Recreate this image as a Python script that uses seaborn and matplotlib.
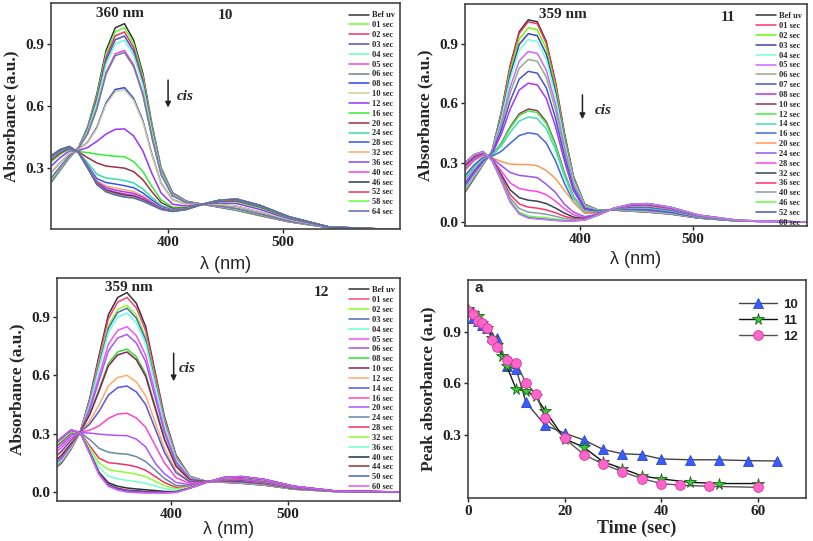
import pandas as pd
import matplotlib
matplotlib.use('Agg')
import matplotlib.pyplot as plt
import seaborn as sns

sns.set_style('ticks')
plt.rcParams['font.family'] = ['Liberation Serif', 'DejaVu Serif']
plt.rcParams['axes.linewidth'] = 1.2

# wavelength grid (nm) shared by the three spectra panels
wavelength = [298, 306, 314, 322, 330, 338, 346, 354, 362, 370, 378, 386,
              394, 404, 416, 430, 445, 460, 480, 505, 540, 600]

# ---- compound 10 ----
labels_10 = ['Bef uv', '01 sec', '02 sec', '03 sec', '04 sec', '05 sec', '06 sec',
             '08 sec', '10 sec', '12 sec', '16 sec', '20 sec', '24 sec', '28 sec',
             '32 sec', '36 sec', '40 sec', '46 sec', '52 sec', '58 sec', '64 sec']
colors_10 = ['#333333', '#66ff33', '#e8336b', '#5050c8', '#66ffcc', '#ee44ee', '#708090',
             '#3344dd', '#cccc99', '#9933ff', '#33ee33', '#993344', '#33ddaa', '#3355ee',
             '#ffaa66', '#9944ee', '#ee44dd', '#333366', '#ee3366', '#66ff33', '#5566bb']
spectra_10 = [
    [0.23, 0.29, 0.35, 0.40, 0.50, 0.66, 0.87, 0.98, 1.00, 0.92, 0.76, 0.51, 0.30, 0.18, 0.14, 0.125, 0.11, 0.095, 0.07, 0.04, 0.012, 0.002],
    [0.233, 0.292, 0.351, 0.399, 0.495, 0.649, 0.854, 0.961, 0.98, 0.902, 0.745, 0.501, 0.295, 0.178, 0.139, 0.125, 0.111, 0.096, 0.071, 0.041, 0.012, 0.002],
    [0.236, 0.295, 0.353, 0.399, 0.49, 0.639, 0.837, 0.941, 0.96, 0.883, 0.73, 0.491, 0.29, 0.176, 0.138, 0.125, 0.112, 0.098, 0.072, 0.041, 0.012, 0.002],
    [0.239, 0.297, 0.354, 0.398, 0.486, 0.629, 0.821, 0.922, 0.94, 0.866, 0.716, 0.482, 0.286, 0.174, 0.137, 0.125, 0.112, 0.099, 0.074, 0.042, 0.012, 0.002],
    [0.242, 0.299, 0.355, 0.398, 0.481, 0.618, 0.805, 0.903, 0.92, 0.847, 0.701, 0.473, 0.281, 0.171, 0.136, 0.125, 0.113, 0.1, 0.075, 0.042, 0.012, 0.002],
    [0.25, 0.305, 0.359, 0.396, 0.469, 0.592, 0.764, 0.854, 0.87, 0.801, 0.664, 0.45, 0.269, 0.166, 0.134, 0.125, 0.115, 0.104, 0.078, 0.044, 0.012, 0.002],
    [0.252, 0.307, 0.359, 0.396, 0.467, 0.587, 0.756, 0.845, 0.86, 0.792, 0.656, 0.445, 0.267, 0.165, 0.133, 0.125, 0.116, 0.104, 0.078, 0.044, 0.012, 0.002],
    [0.278, 0.327, 0.37, 0.391, 0.426, 0.498, 0.617, 0.681, 0.69, 0.638, 0.531, 0.366, 0.226, 0.147, 0.125, 0.125, 0.123, 0.115, 0.088, 0.049, 0.013, 0.002],
    [0.28, 0.328, 0.371, 0.39, 0.424, 0.492, 0.609, 0.671, 0.68, 0.629, 0.524, 0.361, 0.224, 0.146, 0.125, 0.125, 0.123, 0.116, 0.089, 0.05, 0.013, 0.002],
    [0.309, 0.351, 0.383, 0.385, 0.40, 0.43, 0.465, 0.488, 0.49, 0.456, 0.384, 0.273, 0.179, 0.125, 0.116, 0.125, 0.131, 0.128, 0.1, 0.055, 0.014, 0.002],
    [0.33, 0.367, 0.392, 0.381, 0.375, 0.368, 0.362, 0.358, 0.355, 0.332, 0.284, 0.21, 0.146, 0.111, 0.109, 0.125, 0.137, 0.137, 0.108, 0.059, 0.014, 0.002],
    [0.338, 0.373, 0.396, 0.379, 0.35, 0.325, 0.31, 0.305, 0.30, 0.283, 0.244, 0.185, 0.133, 0.105, 0.107, 0.125, 0.139, 0.141, 0.112, 0.061, 0.015, 0.002],
    [0.348, 0.38, 0.40, 0.377, 0.325, 0.27, 0.252, 0.247, 0.24, 0.228, 0.199, 0.157, 0.119, 0.099, 0.104, 0.125, 0.142, 0.145, 0.115, 0.063, 0.015, 0.002],
    [0.352, 0.383, 0.401, 0.377, 0.313, 0.249, 0.23, 0.223, 0.215, 0.205, 0.18, 0.145, 0.113, 0.096, 0.103, 0.125, 0.143, 0.146, 0.117, 0.063, 0.015, 0.002],
    [0.355, 0.386, 0.403, 0.376, 0.308, 0.238, 0.214, 0.204, 0.195, 0.187, 0.166, 0.136, 0.108, 0.094, 0.102, 0.125, 0.144, 0.148, 0.118, 0.064, 0.015, 0.002],
    [0.356, 0.387, 0.403, 0.376, 0.306, 0.233, 0.206, 0.194, 0.185, 0.178, 0.159, 0.132, 0.106, 0.093, 0.101, 0.125, 0.144, 0.148, 0.119, 0.064, 0.015, 0.002],
    [0.358, 0.388, 0.404, 0.375, 0.304, 0.228, 0.197, 0.185, 0.175, 0.169, 0.151, 0.127, 0.104, 0.092, 0.101, 0.125, 0.144, 0.149, 0.119, 0.065, 0.015, 0.002],
    [0.358, 0.389, 0.404, 0.375, 0.302, 0.225, 0.193, 0.18, 0.17, 0.164, 0.147, 0.125, 0.102, 0.091, 0.1, 0.125, 0.145, 0.149, 0.119, 0.065, 0.015, 0.002],
    [0.359, 0.389, 0.405, 0.375, 0.301, 0.223, 0.189, 0.175, 0.165, 0.16, 0.144, 0.122, 0.101, 0.091, 0.1, 0.125, 0.145, 0.15, 0.12, 0.065, 0.015, 0.002],
    [0.36, 0.39, 0.405, 0.375, 0.30, 0.221, 0.186, 0.172, 0.162, 0.157, 0.141, 0.121, 0.10, 0.09, 0.10, 0.125, 0.145, 0.15, 0.12, 0.065, 0.015, 0.002],
    [0.36, 0.39, 0.405, 0.375, 0.30, 0.22, 0.185, 0.17, 0.16, 0.155, 0.14, 0.12, 0.10, 0.09, 0.10, 0.125, 0.145, 0.15, 0.12, 0.065, 0.015, 0.002],
]

# ---- compound 11 ----
labels_11 = ['Bef uv', '01 sec', '02 sec', '03 sec', '04 sec', '05 sec', '06 sec',
             '07 sec', '08 sec', '10 sec', '12 sec', '14 sec', '16 sec', '20 sec',
             '24 sec', '28 sec', '32 sec', '36 sec', '40 sec', '46 sec', '52 sec', '60 sec']
colors_11 = ['#333333', '#ff3366', '#66ff00', '#4040c0', '#77ffdd', '#cc66ff', '#99aa88',
             '#4455cc', '#aa33ff', '#993355', '#44ee44', '#44ddbb', '#4466dd', '#ff9955',
             '#9955ee', '#ff44ee', '#334455', '#ff3366', '#8899aa', '#66ff33', '#4455bb', '#cc77ff']
spectra_11 = [
    [0.15, 0.22, 0.29, 0.36, 0.55, 0.79, 0.96, 1.02, 1.01, 0.91, 0.71, 0.45, 0.23, 0.09, 0.06, 0.06, 0.055, 0.05, 0.04, 0.02, 0.005, 0.0],
    [0.151, 0.221, 0.291, 0.36, 0.547, 0.783, 0.951, 1.01, 1.0, 0.901, 0.703, 0.446, 0.228, 0.089, 0.06, 0.06, 0.055, 0.05, 0.04, 0.02, 0.005, 0.0],
    [0.156, 0.225, 0.293, 0.358, 0.536, 0.762, 0.923, 0.98, 0.97, 0.874, 0.682, 0.432, 0.221, 0.087, 0.059, 0.06, 0.056, 0.052, 0.041, 0.021, 0.005, 0.0],
    [0.16, 0.228, 0.295, 0.357, 0.526, 0.742, 0.896, 0.95, 0.94, 0.847, 0.661, 0.419, 0.214, 0.084, 0.058, 0.061, 0.057, 0.053, 0.042, 0.021, 0.005, 0.0],
    [0.165, 0.232, 0.296, 0.355, 0.516, 0.721, 0.868, 0.92, 0.911, 0.82, 0.64, 0.406, 0.208, 0.082, 0.058, 0.061, 0.058, 0.054, 0.043, 0.022, 0.005, 0.0],
    [0.174, 0.239, 0.30, 0.352, 0.496, 0.68, 0.813, 0.86, 0.851, 0.766, 0.598, 0.379, 0.194, 0.077, 0.056, 0.062, 0.061, 0.057, 0.046, 0.022, 0.005, 0.0],
    [0.18, 0.244, 0.303, 0.35, 0.482, 0.652, 0.776, 0.82, 0.811, 0.73, 0.57, 0.361, 0.185, 0.074, 0.055, 0.062, 0.062, 0.059, 0.047, 0.023, 0.006, 0.0],
    [0.189, 0.251, 0.307, 0.347, 0.462, 0.611, 0.721, 0.76, 0.751, 0.677, 0.527, 0.334, 0.172, 0.069, 0.054, 0.063, 0.064, 0.061, 0.049, 0.024, 0.006, 0.0],
    [0.198, 0.258, 0.311, 0.344, 0.441, 0.569, 0.666, 0.70, 0.692, 0.623, 0.485, 0.308, 0.158, 0.064, 0.052, 0.063, 0.066, 0.064, 0.051, 0.025, 0.006, 0.0],
    [0.217, 0.274, 0.319, 0.338, 0.397, 0.48, 0.546, 0.57, 0.562, 0.506, 0.394, 0.25, 0.129, 0.054, 0.049, 0.065, 0.071, 0.069, 0.056, 0.027, 0.006, 0.0],
    [0.219, 0.275, 0.32, 0.337, 0.394, 0.473, 0.537, 0.56, 0.552, 0.497, 0.387, 0.245, 0.127, 0.053, 0.049, 0.065, 0.071, 0.07, 0.056, 0.027, 0.006, 0.0],
    [0.223, 0.279, 0.322, 0.336, 0.383, 0.452, 0.509, 0.53, 0.522, 0.47, 0.366, 0.232, 0.12, 0.051, 0.048, 0.065, 0.072, 0.071, 0.057, 0.027, 0.006, 0.0],
    [0.235, 0.288, 0.327, 0.332, 0.356, 0.397, 0.436, 0.45, 0.443, 0.398, 0.31, 0.196, 0.102, 0.044, 0.046, 0.066, 0.075, 0.075, 0.06, 0.029, 0.007, 0.0],
    [0.259, 0.308, 0.337, 0.324, 0.305, 0.292, 0.29, 0.29, 0.284, 0.26, 0.22, 0.16, 0.10, 0.045, 0.042, 0.067, 0.081, 0.081, 0.066, 0.031, 0.007, 0.0],
    [0.268, 0.315, 0.341, 0.321, 0.285, 0.25, 0.235, 0.23, 0.224, 0.19, 0.15, 0.09, 0.05, 0.027, 0.04, 0.068, 0.083, 0.084, 0.068, 0.032, 0.007, 0.0],
    [0.279, 0.323, 0.346, 0.317, 0.258, 0.197, 0.169, 0.16, 0.154, 0.138, 0.106, 0.067, 0.037, 0.021, 0.039, 0.069, 0.085, 0.087, 0.07, 0.033, 0.008, 0.0],
    [0.286, 0.329, 0.349, 0.315, 0.241, 0.162, 0.123, 0.11, 0.105, 0.093, 0.071, 0.045, 0.025, 0.017, 0.037, 0.069, 0.087, 0.089, 0.072, 0.034, 0.008, 0.0],
    [0.292, 0.333, 0.351, 0.313, 0.229, 0.138, 0.091, 0.075, 0.07, 0.061, 0.047, 0.029, 0.017, 0.014, 0.036, 0.069, 0.088, 0.091, 0.073, 0.034, 0.008, 0.0],
    [0.296, 0.336, 0.353, 0.312, 0.22, 0.121, 0.068, 0.05, 0.045, 0.039, 0.029, 0.018, 0.012, 0.012, 0.036, 0.07, 0.089, 0.092, 0.074, 0.035, 0.008, 0.0],
    [0.299, 0.339, 0.354, 0.31, 0.213, 0.107, 0.049, 0.03, 0.025, 0.021, 0.015, 0.009, 0.007, 0.011, 0.035, 0.07, 0.09, 0.093, 0.075, 0.035, 0.008, 0.0],
    [0.30, 0.34, 0.356, 0.31, 0.21, 0.102, 0.042, 0.022, 0.017, 0.013, 0.009, 0.006, 0.006, 0.01, 0.035, 0.07, 0.09, 0.093, 0.075, 0.035, 0.008, 0.0],
    [0.30, 0.34, 0.355, 0.31, 0.21, 0.10, 0.04, 0.02, 0.015, 0.012, 0.008, 0.005, 0.005, 0.01, 0.035, 0.07, 0.09, 0.093, 0.075, 0.035, 0.008, 0.0],
]

# ---- compound 12 ----
labels_12 = ['Bef uv', '01 sec', '02 sec', '03 sec', '04 sec', '05 sec', '06 sec',
             '08 sec', '10 sec', '12 sec', '14 sec', '16 sec', '20 sec', '24 sec',
             '28 sec', '32 sec', '36 sec', '40 sec', '44 sec', '50 sec', '60 sec']
colors_12 = ['#333333', '#ff4477', '#88ff22', '#5566bb', '#66ffdd', '#ee55ff', '#aa55ee',
             '#33dd33', '#882255', '#ffaa66', '#5555dd', '#ff44cc', '#aa55ff', '#6688aa',
             '#ee3366', '#88ff33', '#77ffcc', '#223344', '#993344', '#4466cc', '#dd55ff']
spectra_12 = [
    [0.11, 0.15, 0.22, 0.31, 0.48, 0.70, 0.91, 1.00, 1.025, 0.97, 0.85, 0.62, 0.39, 0.19, 0.08, 0.055, 0.05, 0.045, 0.035, 0.015, 0.003, 0.0],
    [0.113, 0.153, 0.222, 0.31, 0.473, 0.685, 0.889, 0.976, 1.0, 0.947, 0.829, 0.605, 0.381, 0.185, 0.079, 0.055, 0.051, 0.046, 0.036, 0.015, 0.003, 0.0],
    [0.118, 0.158, 0.226, 0.31, 0.462, 0.662, 0.855, 0.938, 0.96, 0.909, 0.796, 0.581, 0.365, 0.178, 0.076, 0.055, 0.052, 0.047, 0.037, 0.016, 0.003, 0.0],
    [0.12, 0.16, 0.228, 0.31, 0.458, 0.652, 0.841, 0.923, 0.945, 0.894, 0.783, 0.571, 0.359, 0.175, 0.075, 0.055, 0.052, 0.048, 0.037, 0.016, 0.003, 0.0],
    [0.123, 0.163, 0.23, 0.309, 0.451, 0.638, 0.82, 0.899, 0.92, 0.871, 0.763, 0.556, 0.35, 0.17, 0.074, 0.054, 0.053, 0.049, 0.038, 0.017, 0.003, 0.0],
    [0.132, 0.172, 0.237, 0.309, 0.432, 0.596, 0.76, 0.831, 0.85, 0.804, 0.704, 0.513, 0.322, 0.157, 0.07, 0.054, 0.054, 0.051, 0.04, 0.018, 0.004, 0.0],
    [0.137, 0.177, 0.241, 0.309, 0.421, 0.572, 0.725, 0.792, 0.81, 0.766, 0.67, 0.489, 0.307, 0.15, 0.067, 0.054, 0.055, 0.052, 0.041, 0.018, 0.004, 0.0],
    [0.147, 0.187, 0.248, 0.309, 0.401, 0.527, 0.661, 0.72, 0.735, 0.695, 0.608, 0.443, 0.278, 0.136, 0.063, 0.054, 0.057, 0.055, 0.043, 0.019, 0.004, 0.0],
    [0.149, 0.189, 0.25, 0.309, 0.397, 0.518, 0.648, 0.705, 0.72, 0.68, 0.595, 0.434, 0.272, 0.133, 0.062, 0.054, 0.057, 0.055, 0.044, 0.019, 0.004, 0.0],
    [0.164, 0.204, 0.261, 0.308, 0.364, 0.447, 0.545, 0.589, 0.60, 0.566, 0.495, 0.361, 0.226, 0.11, 0.055, 0.053, 0.06, 0.06, 0.047, 0.021, 0.004, 0.0],
    [0.171, 0.211, 0.267, 0.308, 0.349, 0.415, 0.498, 0.537, 0.545, 0.515, 0.45, 0.328, 0.205, 0.10, 0.052, 0.053, 0.062, 0.061, 0.049, 0.022, 0.004, 0.0],
    [0.189, 0.229, 0.28, 0.307, 0.318, 0.34, 0.378, 0.401, 0.405, 0.381, 0.333, 0.242, 0.151, 0.074, 0.044, 0.052, 0.065, 0.066, 0.053, 0.024, 0.005, 0.0],
    [0.203, 0.243, 0.292, 0.306, 0.303, 0.298, 0.294, 0.291, 0.29, 0.272, 0.232, 0.15, 0.095, 0.05, 0.037, 0.051, 0.068, 0.07, 0.057, 0.026, 0.005, 0.0],
    [0.215, 0.255, 0.301, 0.306, 0.27, 0.225, 0.205, 0.198, 0.195, 0.182, 0.157, 0.114, 0.07, 0.034, 0.031, 0.051, 0.07, 0.073, 0.059, 0.027, 0.005, 0.0],
    [0.222, 0.262, 0.306, 0.306, 0.238, 0.174, 0.151, 0.146, 0.14, 0.13, 0.112, 0.081, 0.049, 0.024, 0.028, 0.051, 0.072, 0.075, 0.061, 0.028, 0.006, 0.0],
    [0.227, 0.267, 0.31, 0.305, 0.227, 0.15, 0.116, 0.107, 0.10, 0.092, 0.079, 0.056, 0.034, 0.017, 0.026, 0.05, 0.073, 0.077, 0.062, 0.029, 0.006, 0.0],
    [0.232, 0.272, 0.314, 0.305, 0.217, 0.126, 0.082, 0.068, 0.06, 0.054, 0.045, 0.032, 0.018, 0.009, 0.024, 0.05, 0.074, 0.078, 0.063, 0.029, 0.006, 0.0],
    [0.237, 0.277, 0.318, 0.305, 0.206, 0.102, 0.048, 0.03, 0.021, 0.016, 0.012, 0.008, 0.003, 0.002, 0.021, 0.05, 0.075, 0.079, 0.064, 0.03, 0.006, 0.0],
    [0.239, 0.279, 0.319, 0.305, 0.203, 0.096, 0.039, 0.02, 0.01, 0.007, 0.004, 0.001, -0.001, 0.0, 0.021, 0.05, 0.075, 0.08, 0.065, 0.03, 0.006, 0.0],
    [0.24, 0.28, 0.32, 0.305, 0.201, 0.093, 0.034, 0.015, 0.005, 0.002, -0.001, -0.002, -0.003, -0.001, 0.02, 0.05, 0.075, 0.08, 0.065, 0.03, 0.006, 0.0],
    [0.24, 0.28, 0.32, 0.305, 0.20, 0.09, 0.03, 0.01, 0.0, -0.003, -0.005, -0.005, -0.005, -0.002, 0.02, 0.05, 0.075, 0.08, 0.065, 0.03, 0.006, 0.0],
]

# ---- peak absorbance vs irradiation time ----
time_10 = [0, 1, 2, 3, 4, 5, 6, 8, 10, 12, 16, 20, 24, 28, 32, 36, 40, 46, 52, 58, 64]
peak_10 = [1.02, 0.98, 0.96, 0.94, 0.92, 0.87, 0.86, 0.70, 0.68, 0.49, 0.355, 0.31,
           0.27, 0.215, 0.19, 0.185, 0.16, 0.155, 0.155, 0.15, 0.148]
time_11 = [0, 1, 2, 3, 4, 5, 6, 7, 8, 10, 12, 14, 16, 20, 24, 28, 32, 36, 40, 46, 52, 60]
peak_11 = [1.03, 1.01, 0.99, 0.95, 0.92, 0.86, 0.82, 0.76, 0.70, 0.565, 0.555, 0.525,
           0.44, 0.277, 0.228, 0.143, 0.104, 0.061, 0.044, 0.024, 0.017, 0.017]
time_12 = [0, 1, 2, 3, 4, 5, 6, 8, 10, 12, 14, 16, 20, 24, 28, 32, 36, 40, 44, 50, 60]
peak_12 = [1.02, 1.00, 0.96, 0.95, 0.92, 0.85, 0.81, 0.733, 0.72, 0.60, 0.54, 0.40,
           0.28, 0.185, 0.13, 0.085, 0.046, 0.017, 0.007, 0.001, -0.005]

tick_font = dict(family='Liberation Serif', weight='bold', size=11)


def style_axes(ax):
    for s in ax.spines.values():
        s.set_color('#444444')
        s.set_linewidth(1.2)
    ax.tick_params(direction='out', length=3, width=1, colors='#222222', pad=2)
    for lab in ax.get_xticklabels() + ax.get_yticklabels():
        lab.set_fontproperties(matplotlib.font_manager.FontProperties(**tick_font))


def draw_spectra(ax, labels, colors, spectra, xlim, ylim, yticks, peak_txt, peak_xy,
                 name, name_xy, arrow_x, arrow_y, cis_xy, xpad):
    rows = []
    for lab, vals in zip(labels, spectra):
        for w, v in zip(wavelength, vals):
            rows.append((w, v, lab))
    df = pd.DataFrame(rows, columns=['wl', 'absorbance', 'time'])
    sns.lineplot(data=df, x='wl', y='absorbance', hue='time', hue_order=labels,
                 palette=dict(zip(labels, colors)), estimator=None, sort=False,
                 lw=1.1, ax=ax)
    ax.set_xlim(*xlim)
    ax.set_ylim(*ylim)
    ax.set_xticks([400, 500])
    ax.set_yticks(yticks)
    ax.set_yticklabels([f'{t:.1f}' for t in yticks])
    ax.set_xlabel('λ (nm)', family='Liberation Sans', fontsize=13, labelpad=xpad)
    ax.set_ylabel('Absorbance (a.u.)', family='Liberation Serif', weight='bold',
                  fontsize=12.5, labelpad=4)
    style_axes(ax)
    handles, labs = ax.get_legend_handles_labels()
    ax.legend(handles, labs, loc='upper right', bbox_to_anchor=(1.0, 0.985),
              frameon=False, prop=dict(family='Liberation Serif', weight='bold', size=6),
              handlelength=2.4, handletextpad=0.4, labelspacing=0.22, borderaxespad=0.2)
    ax.text(*peak_xy, peak_txt, ha='center', va='center', fontsize=11,
            family='Liberation Serif', weight='bold')
    ax.text(*name_xy, name, ha='center', va='center', fontsize=11,
            family='Liberation Serif', weight='bold')
    ax.annotate('', xy=(arrow_x, arrow_y[1]), xytext=(arrow_x, arrow_y[0]),
                arrowprops=dict(arrowstyle='-|>', color='#222222', lw=1.1,
                                mutation_scale=8))
    ax.text(*cis_xy, 'cis', ha='left', va='center', fontsize=11,
            family='Liberation Serif', weight='bold', style='italic')


fig = plt.figure(figsize=(8.13, 5.41), dpi=100)
ax1 = fig.add_axes([0.0627, 0.5767, 0.4293, 0.4177])
ax2 = fig.add_axes([0.5720, 0.5823, 0.4207, 0.4104])
ax3 = fig.add_axes([0.0701, 0.0739, 0.4219, 0.4122])
ax4 = fig.add_axes([0.5756, 0.0795, 0.4157, 0.4030])

draw_spectra(ax1, labels_10, colors_10, spectra_10, (298, 602), (0.005, 1.1),
             [0.3, 0.6, 0.9], '360 nm', (358, 1.05), '10', (450, 1.04),
             400, (0.74, 0.58), (408, 0.645), 5)
draw_spectra(ax2, labels_11, colors_11, spectra_11, (298, 601), (-0.02, 1.1),
             [0.0, 0.3, 0.6, 0.9], '359 nm', (385, 1.045), '11', (531, 1.03),
             402, (0.655, 0.505), (413, 0.565), 4)
draw_spectra(ax3, labels_12, colors_12, spectra_12, (302, 596), (-0.046, 1.1),
             [0.0, 0.3, 0.6, 0.9], '359 nm', (364, 1.05), '12', (529, 1.026),
             402, (0.728, 0.555), (406, 0.636), 0)

# peak absorbance panel
series = [
    ('10', time_10, peak_10, '^', '#3a5cff', '#2a44cc', '#444444', 7.5),
    ('11', time_11, peak_11, '*', '#33cc33', '#1a661a', '#111111', 8.5),
    ('12', time_12, peak_12, 'o', '#ff66cc', '#dd3399', '#555555', 7),
]
for name, t, a, mk, fc, ec, lc, ms in series:
    sns.lineplot(x=t, y=a, ax=ax4, color=lc, lw=1.0, marker=mk, markersize=ms,
                 markerfacecolor=fc, markeredgecolor=ec, markeredgewidth=0.6,
                 label=name, estimator=None, sort=False)
ax4.set_xlim(0, 70)
ax4.set_ylim(-0.067, 1.2)
ax4.set_xticks([0, 20, 40, 60])
ax4.set_yticks([0.3, 0.6, 0.9])
ax4.set_yticklabels(['0.3', '0.6', '0.9'])
ax4.set_xlabel('Time (sec)', family='Liberation Serif', weight='bold', fontsize=13,
               labelpad=1)
ax4.set_ylabel('Peak absorbance (a.u)', family='Liberation Serif', weight='bold',
               fontsize=12.5, labelpad=4)
style_axes(ax4)
ax4.legend(loc='upper right', bbox_to_anchor=(1.01, 0.97), frameon=False,
           prop=dict(family='Liberation Sans', weight='bold', size=9.5),
           handlelength=2.9, handletextpad=0.4, labelspacing=0.3, numpoints=1)
ax4.text(0.02, 0.962, 'a', transform=ax4.transAxes, ha='left', va='center',
         family='Liberation Sans', weight='bold', fontsize=11)

fig.savefig('out.png', dpi=100)
